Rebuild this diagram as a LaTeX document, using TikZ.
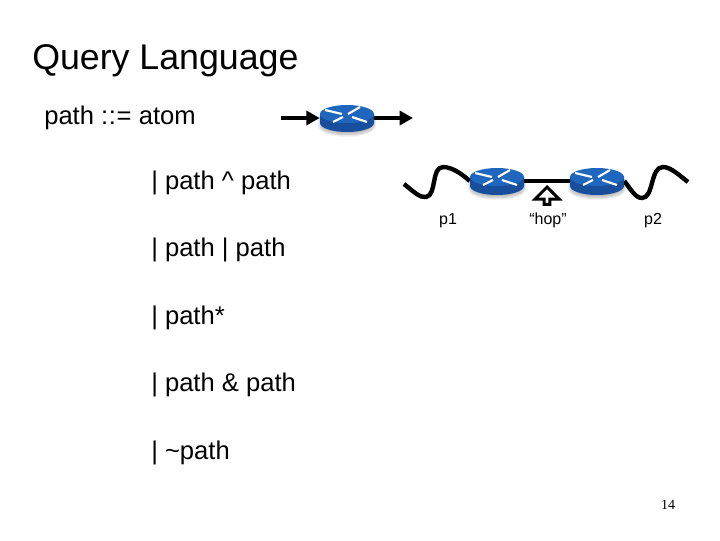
\documentclass[tikz,border=0pt]{standalone}
\usepackage{fontspec}
\setmainfont{Liberation Sans}
\newfontfamily\numfont{Liberation Serif}
\usetikzlibrary{arrows.meta,shadows.blur,shapes.geometric,shapes.arrows}
\definecolor{routerblue}{HTML}{1F66BE}
\definecolor{routerside}{HTML}{174F9C}
\tikzset{
  title/.style={anchor=base west, inner sep=0pt, font=\fontsize{26.8}{30}\selectfont},
  body/.style={anchor=base west, inner sep=0pt, font=\fontsize{19.2}{22}\selectfont},
  small/.style={anchor=base, inner sep=0pt, font=\fontsize{12}{14}\selectfont},
  wire/.style={line width=3.3pt, black},
  flow/.style={wire, -{Triangle[length=10pt,width=10.5pt]}},
  hub/.style={ellipse, minimum width=40.5pt, minimum height=20pt, inner sep=0pt},
  pics/router/.style={code={
    \fill[routerside, blur shadow={shadow blur steps=8, shadow xshift=0pt, shadow yshift=-2pt, shadow opacity=30}] (-27,-4) -- (-27,5) arc[start angle=180, end angle=0, x radius=27, y radius=9] -- (27,-4) -- cycle;
    \fill[routerblue] (0,-4) ellipse[x radius=27, y radius=9];
    \draw[white, line width=1.6pt] (-22,-8) -- (-5,-4);
    \draw[white, line width=1.6pt] (1,-4) -- (13,-11);
    \draw[white, line width=1.6pt] (-14,4) -- (-4,-1);
    \draw[white, line width=1.6pt] (5,-1) -- (20,4);
  }},
}
\begin{document}
\begin{tikzpicture}[x=0.75pt, y=-0.75pt]
\useasboundingbox (0,0) rectangle (720,540);
\node[title] (head) at (32,69){Query Language};
\node[body] (line0) at (44,124){path :\kern.5pt:\kern.5pt= atom};
\node[body] (line1) at (151,189){| path \string^ path};
\node[body] (line2) at (151,256){| path | path};
\node[body] (line3) at (151,324){| path*};
\node[body] (line4) at (151,391){| path \& path};
\node[body] (line5) at (151,459){| \string~path};
\node[small] (p1) at (448,224){p1};
\node[small] (hop) at (548,224){“hop”};
\node[small] (p2) at (653,224){p2};
\node[anchor=base, inner sep=0pt, font=\numfont\fontsize{10.5}{12}\selectfont] (num) at (668,509){14};
\coordinate (in0) at (281,118);
\coordinate (out0) at (413,118);
\node[hub] (rid0) at (347,118){};
\draw[flow](in0) -- (rid0);
\draw[flow](rid0) -- (out0);
\pic at (347,118) {router};
\coordinate (p1start) at (404,184);
\coordinate (p2end) at (688,182);
\node[hub] (rid1) at (497,181){};
\node[hub] (rid2) at (597,181){};
\draw[wire](p1start) .. controls (414,192) and (420,198) .. (426,197) .. controls (437,195) and (431,167) .. (443,167) .. controls (452,167) and (462,174) .. (rid1.west);
\draw[wire](rid1) -- (rid2);
\draw[wire](rid2.east) .. controls (630,188) and (635,198) .. (642,198) .. controls (654,198) and (650,167) .. (663,167) .. controls (671,167) and (680,176) .. (p2end);
\pic at (497,181) {router};
\pic at (597,181) {router};
\node[draw=black, line width=2.2pt, fill=white, single arrow, single arrow head extend=3.5pt, single arrow tip angle=90, minimum width=18pt, minimum height=13pt, inner sep=0pt, shape border rotate=90, anchor=tip] (hopmark) at (547,185){};
\end{tikzpicture}
\end{document}
